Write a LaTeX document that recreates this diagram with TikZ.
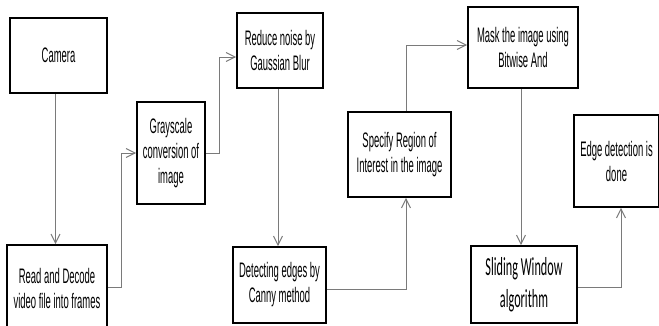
\documentclass[tikz,border=0pt]{standalone}
\usepackage{fontspec}
\setmainfont{Liberation Sans}[FakeStretch=0.45]
\newfontfamily\slidefont{Carlito}[FakeStretch=0.47]
\usetikzlibrary{arrows.meta}
\definecolor{linegray}{HTML}{7A7A7A}
\tikzset{
  box/.style={draw=black, line width=1.6pt, fill=white, inner sep=0pt, align=center,
    font=\fontsize{21}{25}\selectfont},
  arr/.style={draw=linegray, line width=1pt, -{Straight Barb[length=9pt,width=9pt,line width=1pt]}},
}
\begin{document}
\begin{tikzpicture}[x=1pt,y=-1pt]
\useasboundingbox (0,0) rectangle (659,325);
\clip (0,0) rectangle (659,325);
\node[box, minimum width=97pt, minimum height=75pt] (camera) at (58.5,55.5) {Camera};
\node[box, minimum width=100pt, minimum height=87pt] (read) at (57,288.5) {Read and Decode\\video file into frames};
\node[box, minimum width=68pt, minimum height=102pt] (gray) at (171,153) {Grayscale\\conversion of\\image};
\node[box, minimum width=86pt, minimum height=75pt] (reduce) at (280,50.5) {Reduce noise by\\Gaussian Blur};
\node[box, minimum width=93pt, minimum height=76pt] (detect) at (279.5,285) {Detecting edges by\\Canny method};
\node[box, minimum width=103pt, minimum height=85pt] (specify) at (399.5,154.5) {Specify Region of\\Interest in the image};
\node[box, minimum width=110pt, minimum height=81pt] (mask) at (523,47.5) {Mask the image using\\Bitwise And};
\node[box, minimum width=106pt, minimum height=77pt, font=\slidefont\fontsize{26}{32}\selectfont] (sliding) at (524,284.5) {Sliding Window\\algorithm};
\node[box, minimum width=85pt, minimum height=92pt] (edge) at (616.5,161) {Edge detection is\\done};

\draw[arr] ([xshift=-3pt]camera.south) -- ([xshift=-3pt]camera.south |- read.north);
\draw[arr] ([yshift=1pt]read.east) -- ++(14,0) |- (gray.west);
\draw[arr] (gray.east) -- ++(14,0) |- ([yshift=-6.5pt]reduce.west);
\draw[arr] ([xshift=-2pt]reduce.south) -- ([xshift=-2pt]reduce.south |- detect.north);
\draw[arr] ([yshift=-4pt]detect.east) -| ([xshift=6.5pt]specify.south);
\draw[arr] ([xshift=6.5pt]specify.north) |- ([yshift=2.5pt]mask.west);
\draw[arr] ([xshift=-2pt]mask.south) -- ([xshift=-2pt]mask.south |- sliding.north);
\draw[arr] ([yshift=-2.5pt]sliding.east) -| ([xshift=4.5pt]edge.south);
\end{tikzpicture}
\end{document}
